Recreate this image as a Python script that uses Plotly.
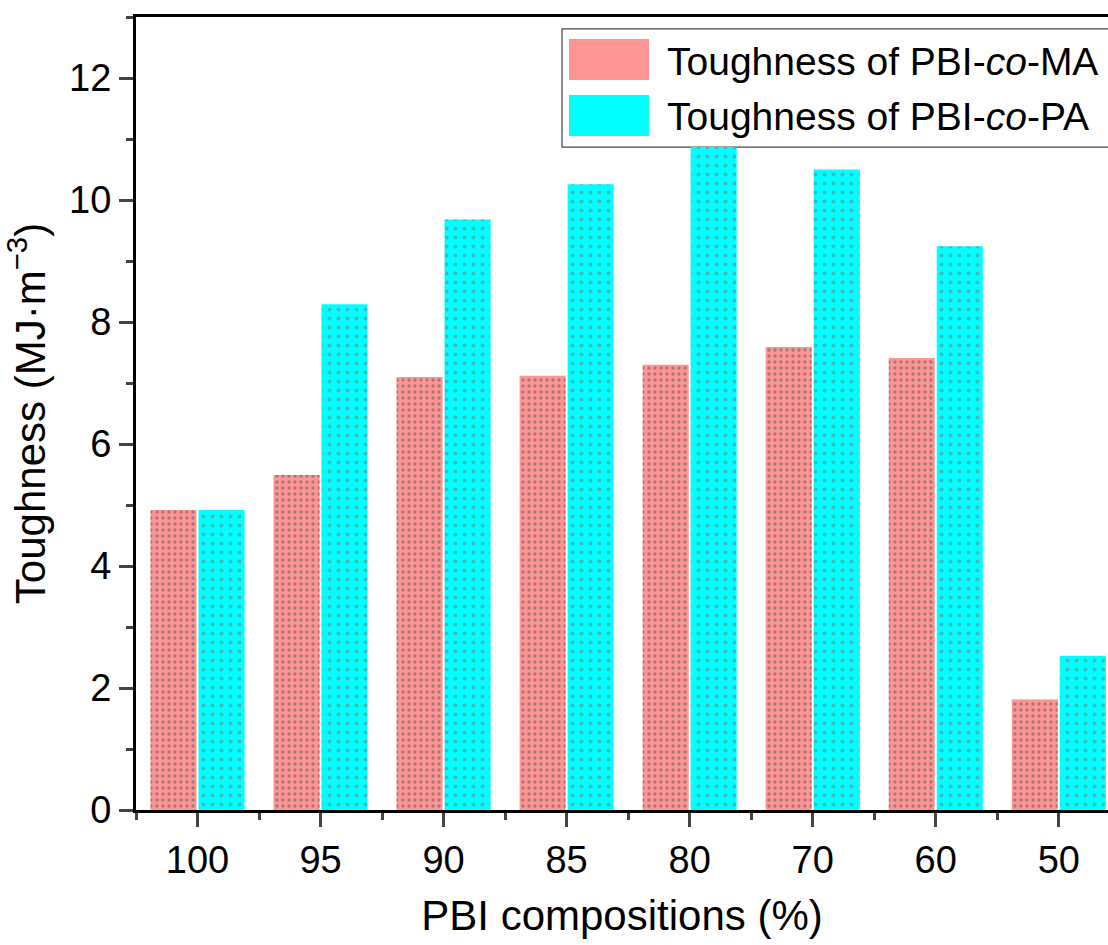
import plotly.graph_objects as go

categories = ["100", "95", "90", "85", "80", "70", "60", "50"]
toughness_ma = [4.92, 5.49, 7.10, 7.12, 7.30, 7.59, 7.41, 1.81]
toughness_pa = [4.92, 8.29, 9.68, 10.26, 10.87, 10.50, 9.24, 2.53]
series_names = ["Toughness of PBI-<i>co</i>-MA", "Toughness of PBI-<i>co</i>-PA"]
colors = ["#FF9494", "#00FFFF"]

xpos = list(range(len(categories)))
FONT = "Liberation Sans, Arial, sans-serif"

fig = go.Figure()
fig.add_trace(go.Bar(
    x=xpos, y=toughness_ma, name=series_names[0],
    marker=dict(color=colors[0], line=dict(width=0),
                pattern=dict(shape=".", fgcolor="#555555", bgcolor=colors[0],
                             size=6, solidity=0.25)),
    showlegend=False,
))
fig.add_trace(go.Bar(
    x=xpos, y=toughness_pa, name=series_names[1],
    marker=dict(color=colors[1], line=dict(width=0),
                pattern=dict(shape=".", fgcolor="#777777", bgcolor=colors[1],
                             size=9, solidity=0.15)),
    showlegend=False,
))

# manual legend (paper coordinates)
shapes = [
    dict(type="rect", xref="paper", yref="paper", x0=0.4383, x1=1.02, y0=0.836, y1=0.985,
         line=dict(color="#444444", width=1.2), fillcolor="white", layer="below"),
    dict(type="rect", xref="paper", yref="paper", x0=0.4455, x1=0.5278, y0=0.9206, y1=0.9723,
         line=dict(width=0), fillcolor=colors[0]),
    dict(type="rect", xref="paper", yref="paper", x0=0.4455, x1=0.5278, y0=0.850, y1=0.9016,
         line=dict(width=0), fillcolor=colors[1]),
]
annotations = [
    dict(text=series_names[0], xref="paper", yref="paper", x=0.5442, y=0.9445,
         xanchor="left", yanchor="middle", showarrow=False,
         font=dict(family=FONT, size=39, color="black")),
    dict(text=series_names[1], xref="paper", yref="paper", x=0.5442, y=0.8739,
         xanchor="left", yanchor="middle", showarrow=False,
         font=dict(family=FONT, size=39, color="black")),
]

fig.update_layout(
    width=1108, height=945,
    margin=dict(l=136, r=0, t=17, b=135),
    plot_bgcolor="white", paper_bgcolor="white",
    barmode="group", bargap=0.22, bargroupgap=0.04,
    font=dict(family=FONT, color="black"),
    shapes=shapes, annotations=annotations,
    showlegend=False,
)
fig.update_xaxes(
    range=[-0.5, 7.4],
    tickmode="array", tickvals=xpos, ticktext=categories,
    tickfont=dict(size=38), ticks="outside", ticklen=14, tickwidth=3,
    showline=True, linewidth=3, linecolor="black", mirror=True,
    showgrid=False, zeroline=False,
    minor=dict(ticks="outside", ticklen=7, tickwidth=3, tick0=-0.5, dtick=1,
               showgrid=False),
    title=dict(text="PBI compositions (%)", font=dict(size=42), standoff=22),
)
fig.update_yaxes(
    range=[0, 13],
    tickmode="linear", tick0=0, dtick=2,
    tickfont=dict(size=38), ticks="outside", ticklen=14, tickwidth=3,
    showline=True, linewidth=3, linecolor="black", mirror=False,
    showgrid=False, zeroline=False,
    minor=dict(ticks="outside", ticklen=7, tickwidth=3, dtick=1, showgrid=False),
    title=dict(text="Toughness (MJ·m<sup>−3</sup>)", font=dict(size=42), standoff=14),
)

fig.write_html("out.html")
